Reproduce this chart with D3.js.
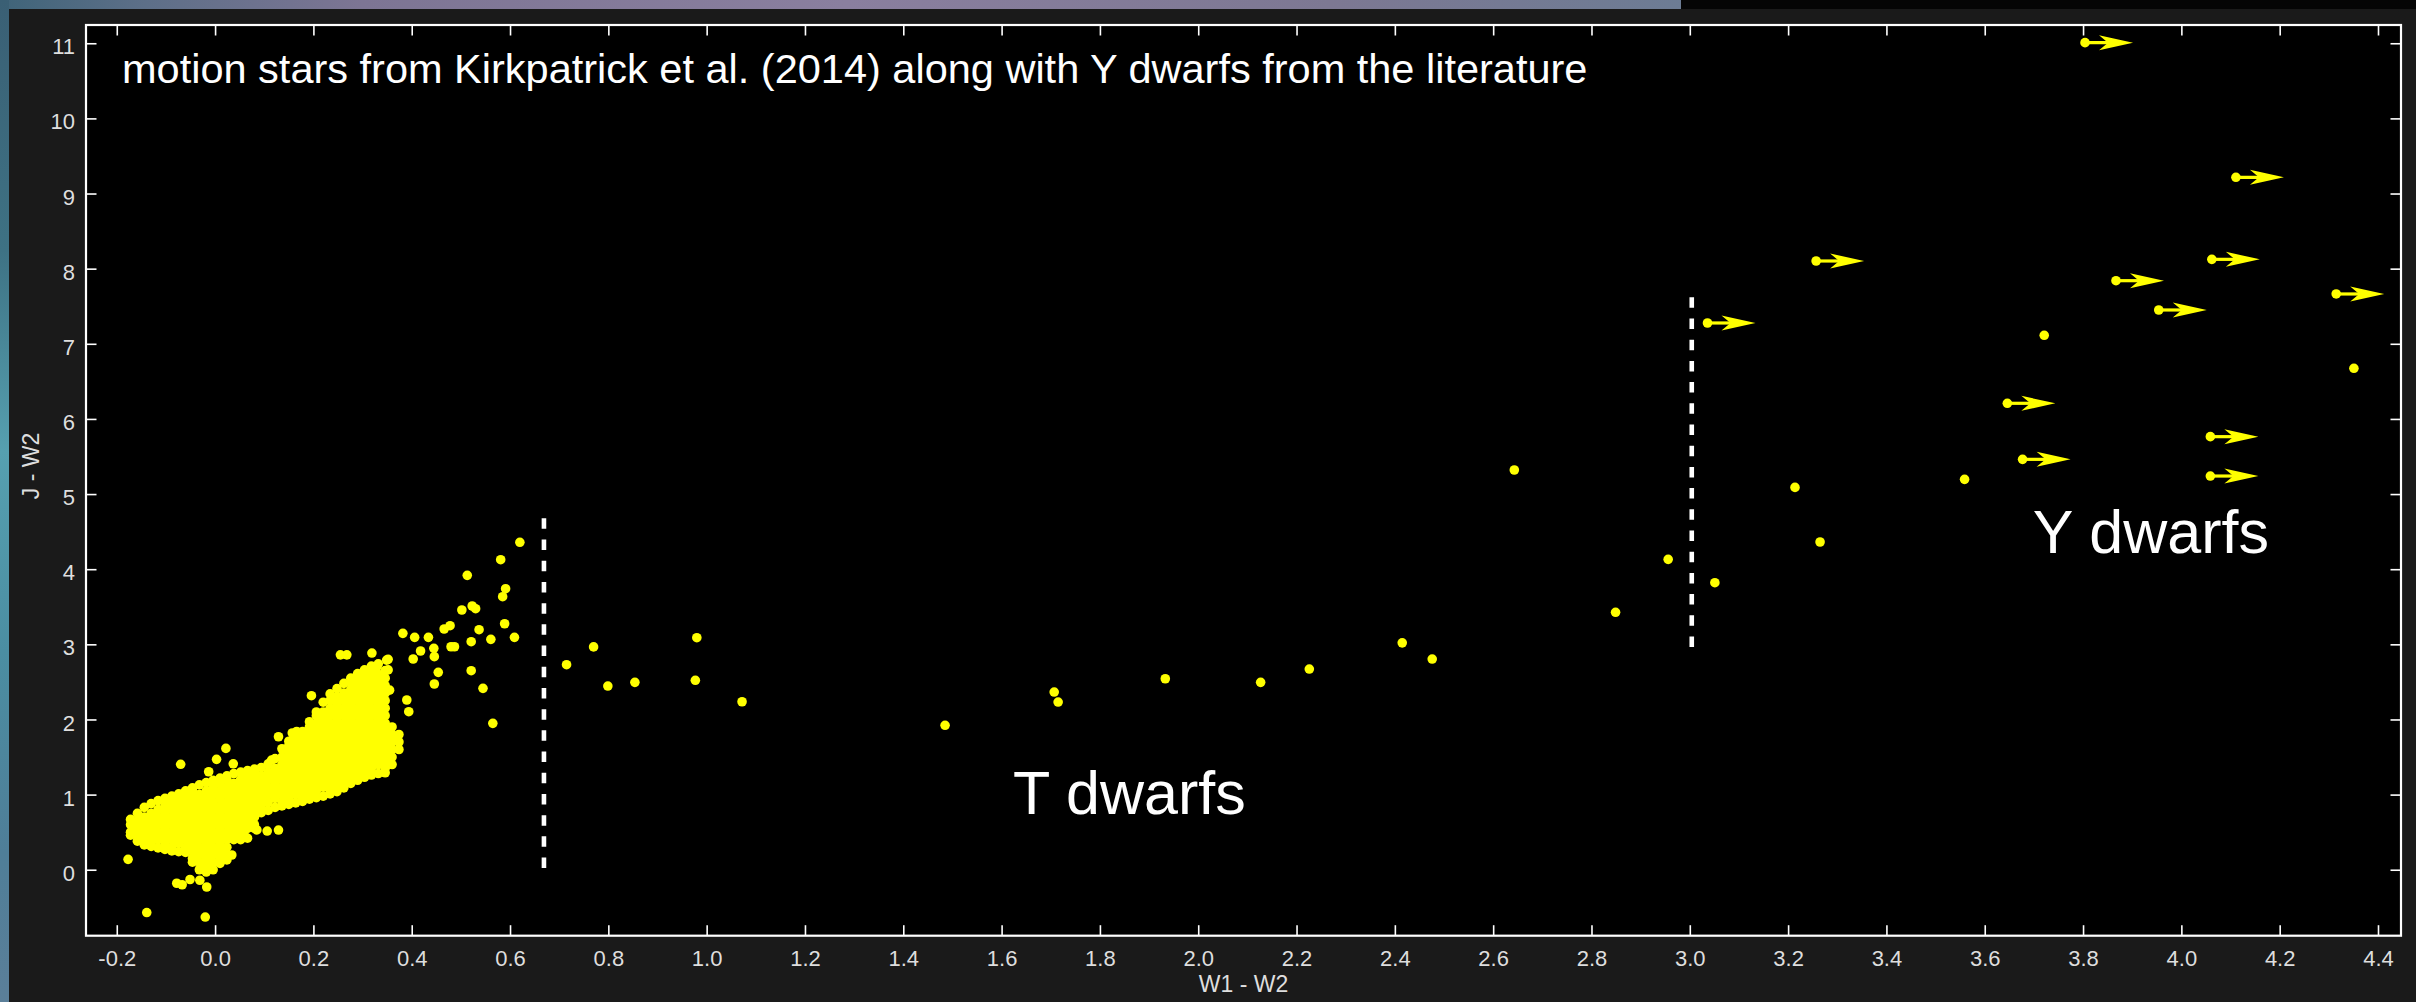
<!DOCTYPE html>
<html>
<head>
<meta charset="utf-8">
<script src="https://cdn.jsdelivr.net/npm/d3@7"></script>
<style>
html,body{margin:0;padding:0;background:#1a1a1a;overflow:hidden;}
svg{display:block;}
</style>
</head>
<body>
<svg id="chart" width="2416" height="1002"></svg>
<script>
// ---------------- DATA ----------------
const xTickValues = [-0.2,0,0.2,0.4,0.6,0.8,1.0,1.2,1.4,1.6,1.8,2.0,2.2,2.4,2.6,2.8,3.0,3.2,3.4,3.6,3.8,4.0,4.2,4.4];
const yTickValues = [0,1,2,3,4,5,6,7,8,9,10,11];
const xAxisTitle = "W1 - W2";
const yAxisTitle = "J - W2";
const titleText = "motion stars from Kirkpatrick et al. (2014) along with Y dwarfs from the literature";
const regionLabels = ["T dwarfs", "Y dwarfs"];

// Dense Kirkpatrick et al. (2014) cloud: each entry = [W1-W2, [J-W2 values]]
const clusterColumns = [
 [-0.172,[0.46,0.5,0.6,0.67]],
 [-0.158,[0.38,0.45,0.55,0.65,0.75]],
 [-0.144,[0.33,0.4,0.5,0.6,0.7,0.83]],
 [-0.130,[0.31,0.35,0.45,0.55,0.65,0.75,0.88]],
 [-0.116,[0.29,0.4,0.5,0.6,0.7,0.8,0.92]],
 [-0.102,[0.27,0.35,0.45,0.55,0.65,0.75,0.85,0.95]],
 [-0.088,[0.25,0.3,0.4,0.5,0.6,0.7,0.8,0.9,0.98]],
 [-0.074,[0.24,0.35,0.45,0.55,0.65,0.75,0.85,0.95,1.01]],
 [-0.060,[0.23,0.3,0.4,0.5,0.6,0.7,0.8,0.9,1.0,1.05]],
 [-0.046,[0.1,0.15,0.25,0.35,0.45,0.55,0.65,0.75,0.85,0.95,1.05,1.09]],
 [-0.032,[0.0,0.1,0.2,0.3,0.4,0.5,0.6,0.7,0.8,0.9,1.0,1.13]],
 [-0.018,[-0.03,0.05,0.15,0.25,0.35,0.45,0.55,0.65,0.75,0.85,0.95,1.05,1.16]],
 [-0.004,[0.0,0.1,0.2,0.3,0.4,0.5,0.6,0.7,0.8,0.9,1.0,1.1,1.19]],
 [0.010,[0.1,0.15,0.25,0.35,0.45,0.55,0.65,0.75,0.85,0.95,1.05,1.15,1.22]],
 [0.024,[0.13,0.2,0.3,0.4,0.5,0.6,0.7,0.8,0.9,1.0,1.1,1.2,1.25]],
 [0.038,[0.4,0.45,0.55,0.65,0.75,0.85,0.95,1.05,1.15,1.28]],
 [0.052,[0.4,0.5,0.6,0.7,0.8,0.9,1.0,1.1,1.2,1.3]],
 [0.066,[0.42,0.55,0.65,0.75,0.85,0.95,1.05,1.15,1.25,1.32]],
 [0.080,[0.55,0.6,0.7,0.8,0.9,1.0,1.1,1.2,1.3,1.34]],
 [0.094,[0.76,0.85,0.95,1.05,1.15,1.25,1.36]],
 [0.108,[0.79,0.9,1.0,1.1,1.2,1.3,1.41]],
 [0.122,[0.83,0.95,1.05,1.15,1.25,1.35,1.48]],
 [0.136,[0.85,0.9,1.0,1.1,1.2,1.3,1.4,1.5,1.61]],
 [0.150,[0.87,0.95,1.05,1.15,1.25,1.35,1.45,1.55,1.65,1.71]],
 [0.164,[0.89,1.0,1.1,1.2,1.3,1.4,1.5,1.6,1.7,1.76]],
 [0.178,[0.91,0.95,1.05,1.15,1.25,1.35,1.45,1.55,1.65,1.75,1.84]],
 [0.192,[0.94,1.0,1.1,1.2,1.3,1.4,1.5,1.6,1.7,1.8,1.9,1.97]],
 [0.206,[0.96,1.05,1.15,1.25,1.35,1.45,1.55,1.65,1.75,1.85,1.95,2.05,2.1]],
 [0.220,[0.98,1.1,1.2,1.3,1.4,1.5,1.6,1.7,1.8,1.9,2.0,2.1,2.23]],
 [0.234,[1.01,1.05,1.15,1.25,1.35,1.45,1.55,1.65,1.75,1.85,1.95,2.05,2.15,2.25,2.34]],
 [0.248,[1.04,1.1,1.2,1.3,1.4,1.5,1.6,1.7,1.8,1.9,2.0,2.1,2.2,2.3,2.41]],
 [0.262,[1.09,1.15,1.25,1.35,1.45,1.55,1.65,1.75,1.85,1.95,2.05,2.15,2.25,2.35,2.48]],
 [0.276,[1.15,1.2,1.3,1.4,1.5,1.6,1.7,1.8,1.9,2.0,2.1,2.2,2.3,2.4,2.5,2.55]],
 [0.290,[1.19,1.25,1.35,1.45,1.55,1.65,1.75,1.85,1.95,2.05,2.15,2.25,2.35,2.45,2.55,2.61]],
 [0.304,[1.23,1.3,1.4,1.5,1.6,1.7,1.8,1.9,2.0,2.1,2.2,2.3,2.4,2.5,2.6,2.66]],
 [0.318,[1.26,1.35,1.45,1.55,1.65,1.75,1.85,1.95,2.05,2.15,2.25,2.35,2.45,2.55,2.65,2.71]],
 [0.332,[1.28,1.4,1.5,1.6,1.7,1.8,1.9,2.0,2.1,2.2,2.3,2.4,2.5,2.6,2.74]],
 [0.346,[1.29,1.35,1.45,1.55,1.65,1.75,1.85,1.95,2.05,2.15,2.25,2.35,2.45,2.55,2.65]],
 [0.360,[1.4,1.5,1.6,1.7,1.8,1.9]],
 [0.374,[1.6,1.7,1.8]]
];

// Individually visible Kirkpatrick stars around the cloud
const scatterStars = [
 [0.620,4.358],[0.581,4.126],[0.513,3.918],[0.591,3.740],[0.585,3.634],[0.523,3.510],[0.530,3.474],
 [0.502,3.457],[0.589,3.274],[0.478,3.248],[0.466,3.204],[0.537,3.195],[0.382,3.146],[0.406,3.093],
 [0.434,3.093],[0.561,3.066],[0.609,3.093],[0.521,3.035],[0.480,2.968],[0.487,2.968],[0.445,2.947],
 [0.418,2.911],[0.446,2.836],[0.403,2.805],[0.521,2.649],[0.454,2.627],[0.446,2.472],[0.545,2.414],
 [0.565,1.948],[0.390,2.259],[0.394,2.103],[0.319,2.884],[0.255,2.86],[0.268,2.86],[0.352,2.80],
 [0.352,2.66],[0.355,2.39],[0.336,2.30],[0.342,2.17],[0.349,2.79],[0.329,2.70],[0.196,2.316],
 [0.129,1.770],[0.157,1.82],[0.166,1.84],[0.115,1.46],[0.037,1.41],[0.022,1.615],[-0.070,1.403],
 [0.003,1.469],[-0.013,1.304],[0.363,1.73],[0.349,1.42],[0.085,0.53],[0.106,0.515],[0.129,0.528],
 [0.061,0.44],[0.034,0.196],[0.010,0.085],[-0.177,0.138],[-0.078,-0.18],[-0.051,-0.13],[-0.031,-0.14],
 [-0.017,-0.23],[-0.067,-0.20],[-0.139,-0.57],[-0.020,-0.63]
];

// T and Y dwarfs with measured W1-W2
const literatureDwarfs = [
 [0.715,2.729],[0.770,2.966],[0.799,2.445],[0.854,2.494],[0.977,2.521],[0.980,3.088],[1.072,2.236],
 [1.485,1.922],[1.707,2.365],[1.715,2.232],[1.933,2.542],[2.127,2.494],[2.226,2.671],[2.415,3.02],
 [2.476,2.804],[2.643,5.32],[2.849,3.426],[2.956,4.131],[3.051,3.820],[3.214,5.089],[3.265,4.362],
 [3.559,5.196],[3.721,7.113],[4.351,6.674]
];

// Y dwarfs with W1-W2 lower limits (drawn with arrows)
const lowerLimitDwarfs = [
 [3.036,7.277],[3.257,8.102],[3.646,6.208],[3.677,5.462],[3.804,11.008],[3.867,7.84],
 [3.954,7.45],[4.062,8.124],[4.059,5.764],[4.059,5.24],[4.111,9.216],[4.315,7.663]
];

// Dashed boundaries: [W1-W2, J-W2 start, J-W2 end]
const dividerLines = [[0.669,0.0,4.677],[3.004,2.934,7.619]];

// ---------------- DRAWING ----------------
const W = 2416, H = 1002;
const plot = {left:86, top:25, right:2401, bottom:935.7};
const FONT = "'Liberation Sans', Arial, Helvetica, sans-serif";
const svg = d3.select("#chart");

// photographic backdrop strips
const defs = svg.append("defs");
const gTop = defs.append("linearGradient").attr("id","gTop").attr("x1","0").attr("x2","1").attr("y1","0").attr("y2","0");
[["0%","#3f6479"],["6%","#5d6f88"],["15%","#7d7594"],["35%","#8a7f9f"],["55%","#7d7893"],["70%","#6c7c94"]]
  .forEach(s=>gTop.append("stop").attr("offset",s[0]).attr("stop-color",s[1]));
const gLeft = defs.append("linearGradient").attr("id","gLeft").attr("x1","0").attr("x2","0").attr("y1","0").attr("y2","1");
[["0%","#3a5f74"],["25%","#3e7284"],["45%","#56a0b0"],["65%","#4b8ea2"],["85%","#4f7e98"],["100%","#5b7f99"]]
  .forEach(s=>gLeft.append("stop").attr("offset",s[0]).attr("stop-color",s[1]));

svg.append("rect").attr("x",0).attr("y",0).attr("width",W).attr("height",9).attr("fill","url(#gTop)");
svg.append("rect").attr("x",1681).attr("y",0).attr("width",W-1681).attr("height",9).attr("fill","#050505");
svg.append("rect").attr("x",0).attr("y",0).attr("width",9).attr("height",H).attr("fill","url(#gLeft)");
svg.append("rect").attr("x",9).attr("y",9).attr("width",W-9).attr("height",H-9).attr("fill","#1a1a1a");

// plot area
svg.append("rect").attr("x",plot.left).attr("y",plot.top)
  .attr("width",plot.right-plot.left).attr("height",plot.bottom-plot.top).attr("fill","#000");

const x = d3.scaleLinear().domain([-0.2626, 4.4468]).range([plot.left, plot.right]);
const y = d3.scaleLinear().domain([-0.878, 11.243]).range([plot.bottom, plot.top]);

const clip = defs.append("clipPath").attr("id","plotClip");
clip.append("rect").attr("x",plot.left).attr("y",plot.top)
  .attr("width",plot.right-plot.left).attr("height",plot.bottom-plot.top);

const marks = svg.append("g").attr("clip-path","url(#plotClip)");
const YEL = "#ffff00", R = 4.8;

// cloud
const clusterPoints = [];
clusterColumns.forEach(c => c[1].forEach(v => clusterPoints.push([c[0], v])));
marks.append("g").selectAll("circle").data(clusterPoints.concat(scatterStars)).join("circle")
  .attr("cx", d => x(d[0])).attr("cy", d => y(d[1])).attr("r", R).attr("fill", YEL);

// literature dwarfs
marks.append("g").selectAll("circle").data(literatureDwarfs).join("circle")
  .attr("cx", d => x(d[0])).attr("cy", d => y(d[1])).attr("r", R).attr("fill", YEL);

// dashed dividers
marks.append("g").selectAll("line").data(dividerLines).join("line")
  .attr("x1", d => x(d[0])).attr("x2", d => x(d[0]))
  .attr("y1", d => y(d[2])).attr("y2", d => y(d[1]))
  .attr("stroke","#fff").attr("stroke-width",4.6).attr("stroke-dasharray","10.5,10.7");

// lower limits with arrows
const AL = 48; // arrow length in px
const lim = marks.append("g").selectAll("g").data(lowerLimitDwarfs).join("g")
  .attr("transform", d => `translate(${x(d[0])},${y(d[1])})`);
lim.append("line").attr("x1",0).attr("x2",AL-24).attr("y1",0).attr("y2",0)
  .attr("stroke",YEL).attr("stroke-width",3.2);
lim.append("path").attr("d",`M${AL},0 L${AL-34},-7.5 L${AL-25},0 L${AL-34},7.5 Z`).attr("fill",YEL);
lim.append("circle").attr("r",R).attr("fill",YEL);

// axes (ticks inside, on all four sides)
const fmt = d => d.toFixed(1);
function styleAxis(g, labels) {
  g.select(".domain").remove();
  g.selectAll(".tick line").attr("stroke","#fff").attr("stroke-width",1.6);
  if (!labels) g.selectAll(".tick text").remove();
  else g.selectAll(".tick text").attr("fill","#dedede").style("font-family",FONT).style("font-size","22px");
}
svg.append("g").attr("transform",`translate(0,${plot.bottom})`)
  .call(d3.axisBottom(x).tickValues(xTickValues).tickFormat(fmt).tickSizeInner(-10.5).tickSizeOuter(0).tickPadding(14.7))
  .call(g => styleAxis(g, true));
svg.append("g").attr("transform",`translate(0,${plot.top})`)
  .call(d3.axisTop(x).tickValues(xTickValues).tickSizeInner(-10.5).tickSizeOuter(0))
  .call(g => styleAxis(g, false));
svg.append("g").attr("transform",`translate(${plot.left},0)`)
  .call(d3.axisLeft(y).tickValues(yTickValues).tickFormat(d3.format("d")).tickSizeInner(-10.5).tickSizeOuter(0).tickPadding(11))
  .call(g => { styleAxis(g, true); g.selectAll(".tick text").attr("dy","0.48em"); });
svg.append("g").attr("transform",`translate(${plot.right},0)`)
  .call(d3.axisRight(y).tickValues(yTickValues).tickSizeInner(-10.5).tickSizeOuter(0))
  .call(g => styleAxis(g, false));

// frame
svg.append("rect").attr("x",plot.left).attr("y",plot.top)
  .attr("width",plot.right-plot.left).attr("height",plot.bottom-plot.top)
  .attr("fill","none").attr("stroke","#fff").attr("stroke-width",2.2);

// axis titles
svg.append("text").attr("x",(plot.left+plot.right)/2).attr("y",992)
  .attr("text-anchor","middle").attr("fill","#dedede")
  .style("font-family",FONT).style("font-size","23px").text(xAxisTitle);
svg.append("text").attr("transform","translate(38.5,466) rotate(-90)")
  .attr("text-anchor","middle").attr("fill","#dedede")
  .style("font-family",FONT).style("font-size","23px").text(yAxisTitle);

// annotations (placed in data coordinates)
svg.append("text").attr("x",x(-0.1893)).attr("y",y(10.468)).attr("fill","#fff")
  .style("font-family",FONT).style("font-size","41.5px").text(titleText);
svg.append("text").attr("x",x(1.623)).attr("y",y(0.741)).attr("fill","#fff")
  .style("font-family",FONT).style("font-size","61px").text(regionLabels[0]);
svg.append("text").attr("x",x(3.6976)).attr("y",y(4.211)).attr("fill","#fff")
  .style("font-family",FONT).style("font-size","61px").text(regionLabels[1]);
</script>
</body>
</html>
